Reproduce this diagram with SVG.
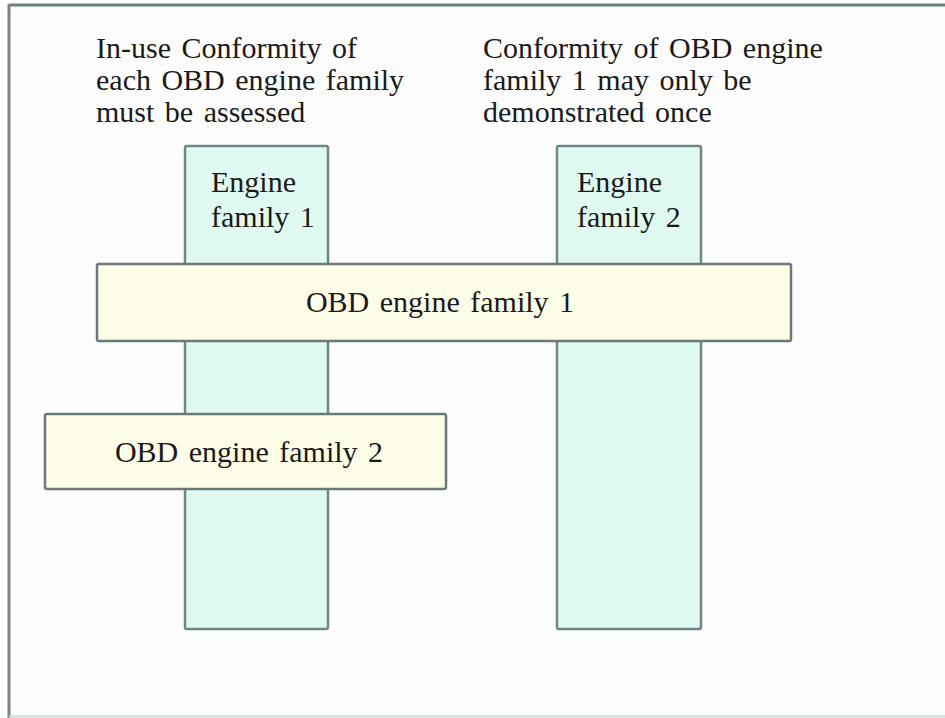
<svg xmlns="http://www.w3.org/2000/svg" width="945" height="718" viewBox="0 0 945 718">
<defs>
<style>
.t{font-family:"Liberation Serif","Times New Roman",serif;font-size:30px;fill:#1a1a1a;word-spacing:3px}
.col{fill:#e0faf2;stroke:#6d8688;stroke-width:2.5}
.bar{fill:#fefee8;stroke:#6a7a7a;stroke-width:2.5}
</style>
</defs>
<rect x="0" y="0" width="945" height="718" fill="#ffffff"/>
<g id="frame">
<rect x="9" y="5" width="936" height="712" fill="#fdfdfd"/>
<line x1="9" y1="5" x2="945" y2="5" stroke="#6f8080" stroke-width="3"/>
<line x1="9" y1="4" x2="9" y2="718" stroke="#7a8585" stroke-width="3"/>
<line x1="9" y1="716.5" x2="945" y2="716.5" stroke="#d4dada" stroke-width="2"/>
</g>
<g id="note1">
<text class="t" x="96" y="58">In-use Conformity of</text>
<text class="t" x="96" y="90">each OBD engine family</text>
<text class="t" x="96" y="122">must be assessed</text>
</g>
<g id="note2">
<text class="t" x="483" y="58">Conformity of OBD engine</text>
<text class="t" x="483" y="90">family 1 may only be</text>
<text class="t" x="483" y="122">demonstrated once</text>
</g>
<g id="engine1">
<rect class="col" x="185" y="146" width="143" height="483" rx="2"/>
<text class="t" x="211" y="192">Engine</text>
<text class="t" x="211" y="227">family 1</text>
</g>
<g id="engine2">
<rect class="col" x="557" y="146" width="144" height="483" rx="2"/>
<text class="t" x="577" y="192">Engine</text>
<text class="t" x="577" y="227">family 2</text>
</g>
<g id="obd1">
<rect class="bar" x="97" y="264" width="694" height="77" rx="2"/>
<text class="t" x="440" y="312" text-anchor="middle">OBD engine family 1</text>
</g>
<g id="obd2">
<rect class="bar" x="45" y="414" width="401" height="75" rx="2"/>
<text class="t" x="249" y="462" text-anchor="middle">OBD engine family 2</text>
</g>
<g id="connectors"/>
</svg>
